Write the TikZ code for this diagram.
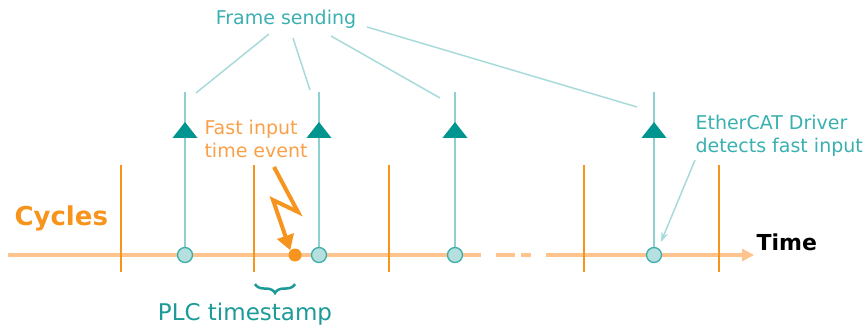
\documentclass[tikz,border=0pt]{standalone}
\usepackage{fontspec}
\setmainfont{DejaVu Sans}
\usetikzlibrary{arrows.meta,decorations.pathreplacing}
\definecolor{tlorange}{HTML}{FFC38E}
\definecolor{tickorange}{HTML}{F7941D}
\definecolor{txtorange}{HTML}{F9A04A}
\definecolor{tealline}{HTML}{8ECFCF}
\definecolor{tealdark}{HTML}{00968F}
\definecolor{circfill}{HTML}{B6DFDF}
\definecolor{circdraw}{HTML}{3BAFA8}
\definecolor{tealtxt}{HTML}{3AB0B0}
\definecolor{plcteal}{HTML}{1C9A98}
\definecolor{connteal}{HTML}{A8DADA}
\begin{document}
\begin{tikzpicture}[x=1pt,y=-1pt,
  tick/.style={draw=tickorange,line width=2pt},
  frameline/.style={draw=tealline,line width=2.2pt},
  sendpt/.style={circle,draw=circdraw,fill=circfill,line width=1.3pt,minimum size=15pt,inner sep=0pt},
  conn/.style={draw=connteal,line width=1.5pt},
  tri/.style={fill=tealdark},
  tealtext/.style={text=tealtxt,font=\fontsize{19}{23}\selectfont,align=left},
]
\useasboundingbox (0,0) rectangle (866,331);
% timeline
\coordinate (tl0) at (8,255);
\coordinate (tl1) at (481,255);
\coordinate (tl2) at (546,255);
\coordinate (tlend) at (754,255);
\draw[draw=tlorange,line width=3.5pt] (tl0) -- (tl1);
\draw[draw=tlorange,line width=3.5pt] (496,255) -- (515,255);
\draw[draw=tlorange,line width=3.5pt] (521,255) -- (531,255);
\draw[draw=tlorange,line width=3.5pt,-{Triangle[length=12pt,width=12pt]}] (tl2) -- (tlend);
% cycle ticks
\foreach \x in {121,254,389,584,719}{
  \draw[tick] (\x,165) -- (\x,272);
}
% frame send lines
\foreach \i/\x in {1/185,2/319,3/455,4/654}{
  \coordinate (t\i) at (\x,92);
  \node[sendpt] (c\i) at (\x,255) {};
  \draw[frameline] (c\i) -- (t\i);
  \fill[tri] (\x,122) -- (\x-12.5,138) -- (\x+12.5,138) -- cycle;
}
% fast input event
\node[circle,fill=tickorange,minimum size=13pt,inner sep=0pt] (ev) at (295,255) {};
\coordinate (b0) at (274,167);
\coordinate (b1) at (298,212);
\coordinate (b2) at (273,200);
\draw[draw=tickorange,line width=4pt,line join=miter,-{Triangle[length=15pt,width=17pt]}] (b0) -- (b1) -- (b2) -- (ev.north west);
\node[text=txtorange,font=\fontsize{19}{23}\selectfont,align=left,anchor=west] (fast) at (201,139) {Fast input\\time event};
% labels
\node[text=tickorange,font=\fontsize{26}{30}\selectfont\bfseries,anchor=west] (cyc) at (11,218) {Cycles};
\node[font=\fontsize{22}{26}\selectfont\bfseries,anchor=west] (time) at (753,242) {Time};
\node[tealtext,anchor=center] (fs) at (286,19) {Frame sending};
\node[tealtext,anchor=west] (eth) at (692,136) {EtherCAT Driver\\detects fast input};
% frame sending connectors
\coordinate (f1) at (196,93);
\coordinate (f2) at (310,90);
\coordinate (f3) at (440,98);
\coordinate (f4) at (637,107);
\draw[conn] (269,34) -- (f1);
\draw[conn] (293,38) -- (f2);
\draw[conn] (331,36) -- (f3);
\draw[conn] (367,27) -- (f4);
% EtherCAT arrow
\coordinate (ea) at (661,242);
\draw[conn,-{Stealth[length=10pt,width=7pt]}] (695,160) -- (ea);
% PLC timestamp brace
\draw[draw=plcteal,line width=2.5pt,decorate,decoration={brace,mirror,amplitude=9pt}] (255,284) -- (295,284);
\node[text=plcteal,font=\fontsize{23}{27}\selectfont] (plc) at (245,314) {PLC timestamp};
\end{tikzpicture}
\end{document}
